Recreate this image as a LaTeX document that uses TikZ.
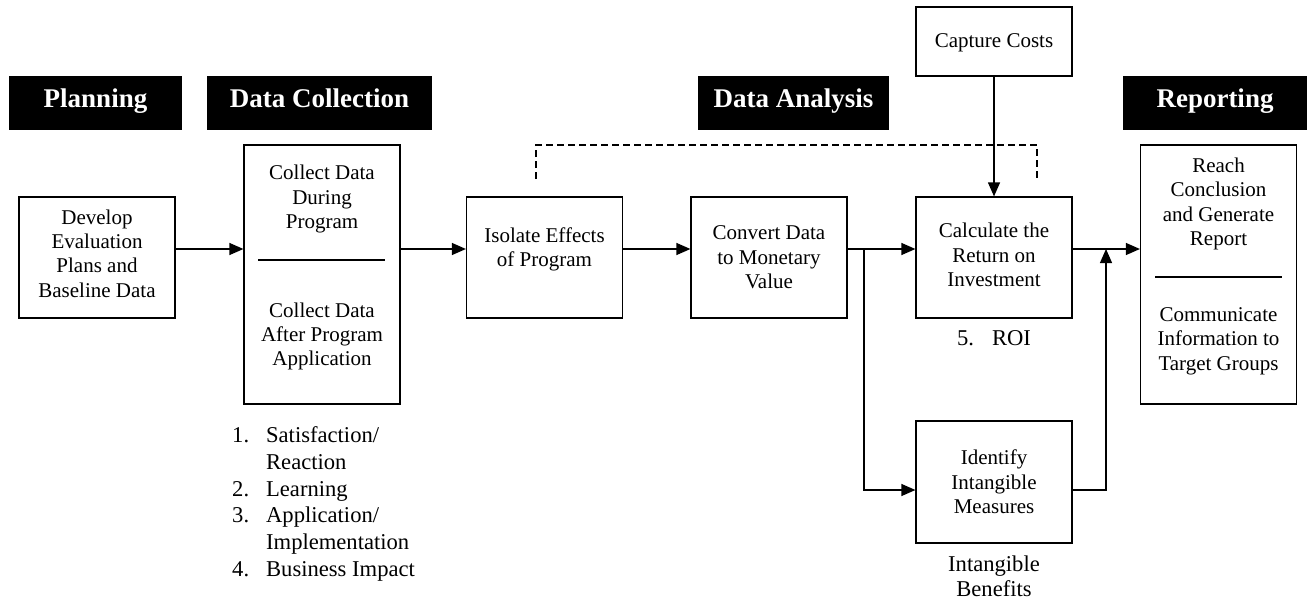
\documentclass[tikz,border=0pt]{standalone}
\usepackage{fontspec}
\setmainfont{Liberation Serif}
\usetikzlibrary{arrows.meta}
\begin{document}
\begin{tikzpicture}[x=1pt,y=-1pt,
  every node/.style={font=\fontsize{21}{24.4}\selectfont, align=center, inner sep=0pt},
  box/.style={draw, line width=1.2pt, minimum width=156pt},
  hdr/.style={fill=black, text=white, minimum height=54pt, text height=17pt, text depth=7pt, font=\bfseries\fontsize{27}{30}\selectfont},
  lbl/.style={font=\fontsize{22.6}{25}\selectfont},
  arr/.style={line width=1.2pt, -{Triangle[length=14pt,width=12pt]}},
  divider/.style={line width=2pt},
  dashline/.style={line width=1.2pt, dash pattern=on 7pt off 4pt}]
\useasboundingbox (0,0) rectangle (1308,599);

% headers
\node[hdr, minimum width=173pt] (hplan) at (95.5,103) {Planning};
\node[hdr, minimum width=225pt] (hcoll) at (319.5,103) {Data Collection};
\node[hdr, minimum width=191pt] (hanal) at (793.5,103) {Data Analysis};
\node[hdr, minimum width=184pt] (hrep) at (1215,103) {Reporting};

% boxes
\node[box, minimum height=121pt] (dev) at (97,257.5) {};
\node (devtxt) at (97,253.5) {Develop\\Evaluation\\Plans and\\Baseline Data};
\node[box, minimum height=259pt] (coll) at (322,274.5) {};
\node (colltop) at (322,199) {Collect Data\\During\\Program};
\node (collbot) at (322,336.5) {Collect Data\\After Program\\Application};
\draw[divider] (258,260) coordinate (cd1) -- (385,260) coordinate (cd2);

\node[box, minimum height=121pt] (iso) at (544.5,257.5) {};
\node (isotxt) at (544.5,249.5) {Isolate Effects\\of Program};
\node[box, minimum height=121pt] (conv) at (769,257.5) {Convert Data\\to Monetary\\Value};
\node[box, minimum height=69pt] (cap) at (994,41.5) {};
\node (captxt) at (994,43) {Capture Costs};
\node[box, minimum height=121pt] (calc) at (994,257.5) {};
\node (calctxt) at (994,255) {Calculate the\\Return on\\Investment};
\node[box, minimum height=122pt] (ident) at (994,482) {Identify\\Intangible\\Measures};

\node[box, minimum height=259pt] (rep) at (1218.5,274.5) {};
\node (reptop) at (1218.5,204) {Reach\\Conclusion\\and Generate\\Report};
\node (repbot) at (1218.5,341) {Communicate\\Information to\\Target Groups};
\draw[divider] (1155,277) coordinate (rd1) -- (1282,277) coordinate (rd2);

% labels
\node[lbl] (roi) at (994,338) {5.\hspace{0.8em}ROI};
\node[lbl] (intb) at (994,576) {Intangible\\Benefits};
\node[lbl, anchor=north west, align=left] (levels) at (232,424) {%
  \fontsize{22.6}{26.7}\selectfont
  \begin{tabular}{@{}l@{\hspace{17pt}}l@{}}
  1. & Satisfaction/\\
     & Reaction\\
  2. & Learning\\
  3. & Application/\\
     & Implementation\\
  4. & Business Impact
  \end{tabular}};

% connectors
\coordinate (ml) at (0,249);
\coordinate (il) at (0,490);
\coordinate (br) at (864,249);
\coordinate (jn) at (1106,249);
\draw[arr] (dev.east |- ml) -- (coll.west |- ml);
\draw[arr] (coll.east |- ml) -- (iso.west |- ml);
\draw[arr] (iso.east |- ml) -- (conv.west |- ml);
\draw[arr] (conv.east |- ml) -- (calc.west |- ml);
\draw[arr] (br) |- (ident.west |- il);
\draw[arr] (calc.east |- ml) -- (rep.west |- ml);
\draw[arr] (ident.east |- il) -| (jn);
\draw[arr] (cap.south) -- (calc.north);

% dashed feedback
\coordinate (d1) at (536,179);
\coordinate (d2) at (1037,178);
\coordinate (dtop) at (0,145);
\draw[dashline] (d1) |- (dtop -| d2) -- (d2);
\end{tikzpicture}
\end{document}
